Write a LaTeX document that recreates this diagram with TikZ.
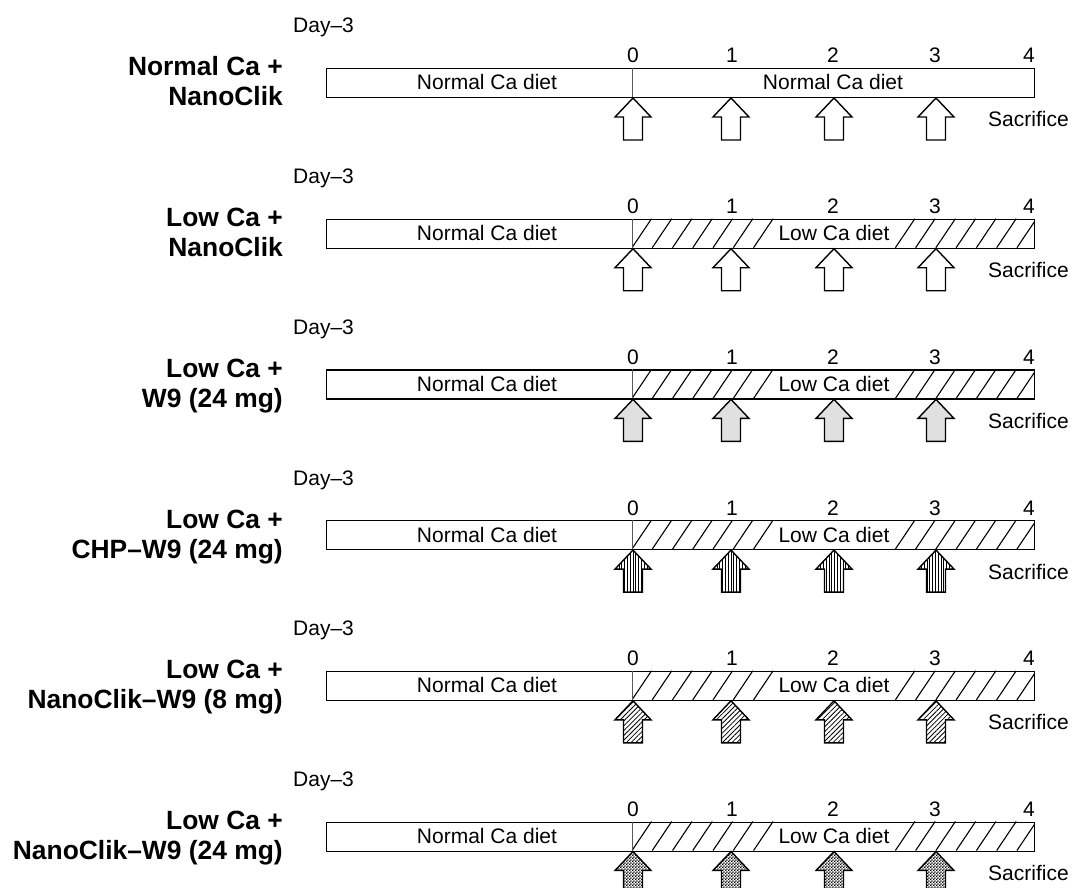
\documentclass[tikz,border=0pt]{standalone}
\usepackage{fontspec}
\setmainfont{Liberation Sans}
\usetikzlibrary{patterns,patterns.meta}

\pgfdeclarepatternformonly{finechecker}{\pgfpointorigin}{\pgfqpoint{3.2pt}{3.2pt}}{\pgfqpoint{3.2pt}{3.2pt}}{%
  \pgfpathrectangle{\pgfpointorigin}{\pgfqpoint{1.6pt}{1.6pt}}%
  \pgfpathrectangle{\pgfqpoint{1.6pt}{1.6pt}}{\pgfqpoint{1.6pt}{1.6pt}}%
  \pgfusepath{fill}}

\tikzset{
  x=1pt, y=-1pt,
  barbox/.style={draw=black, line width=1.3pt, minimum width=708, minimum height=29, inner sep=0pt, anchor=north west},
  hatch/.style={draw=black, line width=1.1pt},
  divider/.style={draw=black!65, line width=0.9pt},
  txt/.style={font=\fontsize{21}{25}\selectfont, inner sep=0pt},
  grouplab/.style={font=\fontsize{26.4}{30}\selectfont\bfseries, inner sep=0pt, anchor=base east},
  arrowline/.style={draw=black, line width=1.4pt, line join=miter},
  plainarrow/.style={fill=white},
  grayarrow/.style={fill=black!12},
  vlarrow/.style={pattern={Lines[angle=90,distance=2.8pt,line width=0.6pt]}},
  dlarrow/.style={pattern={Lines[angle=45,distance=3.4pt,line width=0.8pt]}},
  ckarrow/.style={pattern=finechecker},
  uparr/.pic={\path[arrowline,pic actions] (0,0) -- (18,19) -- (9.5,19) -- (9.5,42) -- (-9.5,42) -- (-9.5,19) -- (-18,19) -- cycle;}
}

% #1 row index, #2 label line 1, #3 label line 2, #4 low Ca (1) or normal (0), #5 arrow style
\newcommand\dietrow[5]{%
  \pgfmathsetmacro\T{68+150.7*#1}%
  \node[txt, anchor=base west] (day#1) at (293,\T-35) {Day–3};
  \node[grouplab] (laba#1) at (283,\T+8) {#2};
  \node[grouplab] (labb#1) at (283,\T+38) {#3};
  \ifnum#4=1
    \begin{scope}
      \clip (632,\T) rectangle (1034,\T+29);
      \foreach \k in {0,1,2,3,4,5,6,13,14,15,16,17,18,19}
        \draw[hatch] (632+\k*20.26,\T+29) -- ++(19.5,-29);
    \end{scope}
    \node[txt, anchor=base] (diet#1) at (834,\T+22) {Low Ca diet};
  \else
    \node[txt, anchor=base] (diet#1) at (833,\T+22) {Normal Ca diet};
  \fi
  \node[barbox] (bar#1) at (326,\T) {};
  \draw[divider] (632,\T) -- (632,\T+29);
  \node[txt, anchor=base] (nca#1) at (487,\T+22) {Normal Ca diet};
  \foreach \xx/\n in {633/0,732/1,833/2,935/3,1029/4}
    \node[txt, anchor=base] (d#1n\n) at (\xx,\T-5) {\n};
  \foreach \xx in {633,731,834,936}
    \pic[#5] at (\xx,\T+30) {uparr};
  \node[txt, anchor=base west] (sac#1) at (988,\T+59) {Sacrifice};
}

\begin{document}
\begin{tikzpicture}
  \useasboundingbox (0,0) rectangle (1072,888);
  \dietrow{0}{Normal Ca +}{NanoClik}{0}{plainarrow}
  \dietrow{1}{Low Ca +}{NanoClik}{1}{plainarrow}
  \dietrow{2}{Low Ca +}{W9 (24 mg)}{1}{grayarrow}
  \dietrow{3}{Low Ca +}{CHP–W9 (24 mg)}{1}{vlarrow}
  \dietrow{4}{Low Ca +}{NanoClik–W9 (8 mg)}{1}{dlarrow}
  \dietrow{5}{Low Ca +}{NanoClik–W9 (24 mg)}{1}{ckarrow}
\end{tikzpicture}
\end{document}
